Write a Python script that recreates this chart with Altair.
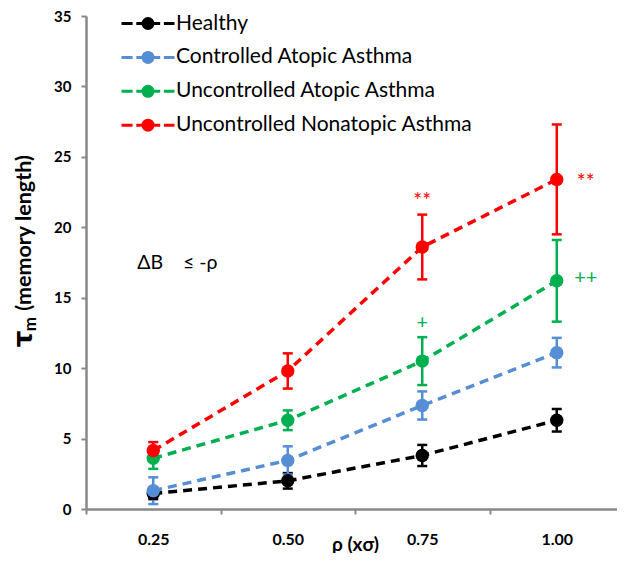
import altair as alt
import pandas as pd

rho = ["0.25", "0.50", "0.75", "1.00"]
groups = ["Healthy", "Controlled Atopic Asthma", "Uncontrolled Atopic Asthma",
          "Uncontrolled Nonatopic Asthma"]
colors = ["#000000", "#558ED5", "#00B050", "#FF0000"]

healthy = [1.1, 2.0, 3.8, 6.3]
healthy_err = [0.4, 0.55, 0.75, 0.8]
controlled = [1.3, 3.45, 7.35, 11.1]
controlled_err = [0.95, 1.0, 1.0, 1.05]
uncontrolled = [3.6, 6.3, 10.5, 16.2]
uncontrolled_err = [0.75, 0.7, 1.7, 2.9]
nonatopic = [4.15, 9.8, 18.6, 23.4]
nonatopic_err = [0.6, 1.25, 2.3, 3.9]

# significance marks: "**" (vs healthy) and "+" (vs controlled)
star_above_rho = ["0.75"]
star_above_val = [22.05]
star_above_text = ["**"]
star_above_group = [groups[3]]
star_right_rho = ["1.00"]
star_right_val = [23.4]
star_right_text = ["**"]
star_right_group = [groups[3]]

plus_above_rho = ["0.75"]
plus_above_val = [13.0]
plus_above_text = ["+"]
plus_above_group = [groups[2]]
plus_right_rho = ["1.00"]
plus_right_val = [16.2]
plus_right_text = ["++"]
plus_right_group = [groups[2]]

cond_rho = ["0.25"]
cond_val = [17.5]
cond_text = ["ΔB\u00a0\u00a0\u00a0\u00a0≤\u00a0-ρ"]

y_ticks = [0, 5, 10, 15, 20, 25, 30, 35]

FONT = "Lato, DejaVu Sans"

rows = []
for g, vals, errs in zip(groups,
                         [healthy, controlled, uncontrolled, nonatopic],
                         [healthy_err, controlled_err, uncontrolled_err, nonatopic_err]):
    for r, v, e in zip(rho, vals, errs):
        rows.append({"group": g, "rho": r, "val": v, "lo": v - e, "hi": v + e})
df = pd.DataFrame(rows)


def ann(r, v, t, g):
    return pd.DataFrame({"rho": r, "val": v, "text": t, "group": g})


cond = pd.DataFrame({"rho": cond_rho, "val": cond_val, "text": cond_text})

xscale = alt.Scale(type="band", domain=rho, range=[0, 538], paddingInner=0, paddingOuter=0)
yscale = alt.Scale(domain=[0, 35], nice=False, zero=True)
cscale = alt.Scale(domain=groups, range=colors)

x_axis = alt.Axis(labelAngle=0, labelFont=FONT, labelFontSize=16, labelFontWeight="bold",
                  labelColor="black", labelPadding=17, tickBand="extent", tickSize=5,
                  tickWidth=2, tickColor="#888888", domainColor="#888888", domainWidth=2.5,
                  titleFont=FONT, titleFontSize=19, titleFontWeight="bold", titleColor="black",
                  titleX=269, titleY=35, titleBaseline="middle")
y_axis = alt.Axis(values=y_ticks, labelFont=FONT, labelFontSize=15, labelFontWeight="bold",
                  labelColor="black", labelPadding=10, tickSize=5, tickWidth=2,
                  tickColor="#888888", domainColor="#888888", domainWidth=2.5,
                  grid=False, title=None)


def X():
    return alt.X("rho:N", scale=xscale, axis=x_axis, title="ρ (xσ)", bandPosition=0.5)


def Y(f):
    return alt.Y(f, scale=yscale, axis=y_axis)


def C(legend=None):
    return alt.Color("group:N", scale=cscale, legend=legend)


LEG_PATH = ("M-2.65,0L-1.54,0M-1.17,0L1.22,0M1.59,0L2.65,0"
            "M-0.5,0A0.5,0.5,0,1,1,0.5,0A0.5,0.5,0,1,1,-0.5,0"
            "M-0.25,0A0.25,0.25,0,1,1,0.25,0A0.25,0.25,0,1,1,-0.25,0"
            "M-0.05,0A0.05,0.05,0,1,1,0.05,0A0.05,0.05,0,1,1,-0.05,0")

legend = alt.Legend(orient="none", legendX=50.5, legendY=-4, title=None,
                    symbolType=LEG_PATH, symbolSize=400, symbolStrokeWidth=3,
                    symbolOpacity=1, labelFont=FONT, labelFontSize=21, labelLimit=500,
                    labelColor="black", labelOffset=16.5, rowPadding=10.9, padding=0)

base = alt.Chart(df)

caps_hi = base.mark_point(shape="M-1,0L1,0", size=100, filled=False, strokeWidth=2.5,
                          opacity=1).encode(x=X(), y=Y("hi:Q"), color=C(legend))
caps_lo = base.mark_point(shape="M-1,0L1,0", size=100, filled=False, strokeWidth=2.5,
                          opacity=1).encode(x=X(), y=Y("lo:Q"), color=C())
lines = base.mark_line(strokeDash=[9, 6], strokeWidth=3.5).encode(
    x=X(), y=Y("val:Q"), color=C())
rules = base.mark_rule(strokeWidth=2.5).encode(
    x=X(), y=Y("lo:Q"), y2="hi:Q", color=C())
points = base.mark_circle(size=180, opacity=1).encode(
    x=X(), y=Y("val:Q"), color=C())

t_star_above = alt.Chart(ann(star_above_rho, star_above_val, star_above_text, star_above_group)
                         ).mark_text(font=FONT, fontSize=21, baseline="middle", dy=4).encode(
    x=X(), y=Y("val:Q"), text="text:N", color=C())
t_star_right = alt.Chart(ann(star_right_rho, star_right_val, star_right_text, star_right_group)
                         ).mark_text(font=FONT, fontSize=21, baseline="middle", dx=29, dy=4).encode(
    x=X(), y=Y("val:Q"), text="text:N", color=C())
t_plus_above = alt.Chart(ann(plus_above_rho, plus_above_val, plus_above_text, plus_above_group)
                         ).mark_text(font=FONT, fontSize=20, baseline="middle", dy=-2.5).encode(
    x=X(), y=Y("val:Q"), text="text:N", color=C())
t_plus_right = alt.Chart(ann(plus_right_rho, plus_right_val, plus_right_text, plus_right_group)
                         ).mark_text(font=FONT, fontSize=20, baseline="middle", dx=29,
                                     dy=-2.5).encode(
    x=X(), y=Y("val:Q"), text="text:N", color=C())
t_cond = alt.Chart(cond).mark_text(font=FONT, fontSize=19.5, baseline="middle", align="left",
                                   dx=-16, color="black").encode(
    x=X(), y=Y("val:Q"), text="text:N")

ytitle_tau = alt.Chart(pd.DataFrame({"t": ["τ"]})).mark_text(
    font="DejaVu Sans", fontSize=26, fontWeight="bold", angle=270, align="center",
    baseline="alphabetic", color="black").encode(
    text="t:N", x=alt.value(-54), y=alt.value(323))
ytitle_m = alt.Chart(pd.DataFrame({"t": ["m"]})).mark_text(
    font=FONT, fontSize=17, fontWeight="bold", angle=270, align="center",
    baseline="alphabetic", color="black").encode(
    text="t:N", x=alt.value(-50), y=alt.value(308))
ytitle_rest = alt.Chart(pd.DataFrame({"t": ["(memory length)"]})).mark_text(
    font=FONT, fontSize=21.5, fontWeight="bold", angle=270, align="center", baseline="middle",
    color="black").encode(text="t:N", x=alt.value(-61), y=alt.value(217))

chart = alt.layer(caps_hi, caps_lo, lines, rules, points, t_star_above, t_star_right,
                  t_plus_above, t_plus_right, t_cond,
                  ytitle_tau, ytitle_m, ytitle_rest).properties(
    width=531, height=493,
    padding={"left": 78, "top": 8, "right": 0, "bottom": 44},
    autosize="none",
).configure_view(stroke=None)

chart.save("out.html", embed_options={"renderer": "svg", "actions": False})
